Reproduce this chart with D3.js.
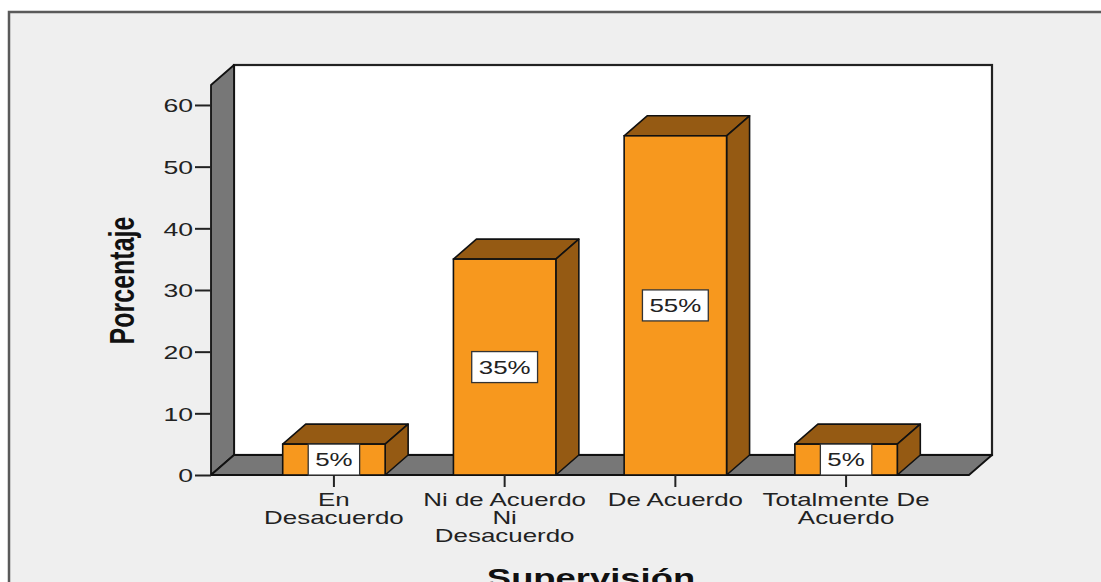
<!DOCTYPE html>
<html>
<head>
<meta charset="utf-8">
<script src="https://cdn.jsdelivr.net/npm/d3@7"></script>
<style>
  html, body { margin: 0; padding: 0; background: #ffffff; }
  svg { display: block; }
  text { font-family: "Liberation Sans", Arial, sans-serif; }
</style>
</head>
<body>
<svg id="chart" width="1101" height="582"></svg>
<script>
// ---- data ----
const categories = ["En Desacuerdo", "Ni de Acuerdo Ni Desacuerdo", "De Acuerdo", "Totalmente De Acuerdo"];
const categoryLines = [["En", "Desacuerdo"], ["Ni de Acuerdo", "Ni", "Desacuerdo"], ["De Acuerdo"], ["Totalmente De", "Acuerdo"]];
const percentages = [5, 35, 55, 5];
const valueLabels = ["5%", "35%", "55%", "5%"];
const yTicks = [0, 10, 20, 30, 40, 50, 60];
const yTitle = "Porcentaje";
const xTitle = "Supervisión";

// ---- layout ----
const W = 1101, H = 582;
const plot = { left: 211, right: 969, bottom: 475, top: 85 };
const depth = { dx: 23, dy: -20 };
const SX = 1.4; // horizontal stretch of the text
const colors = {
  page: "#ffffff", panel: "#efefef", frame: "#5a5a5a",
  wall: "#777777", back: "#ffffff", front: "#f7981e", dark: "#955a13", edge: "#111111"
};

const svg = d3.select("#chart");

const x = d3.scaleBand().domain(categories)
  .range([plot.left, plot.right]).paddingInner(0.4).paddingOuter(0.42);
const y = d3.scaleLinear().domain([0, 63.24]).range([plot.bottom, plot.top]);

// panel background + frame
svg.append("rect").attr("x", 0).attr("y", 0).attr("width", W).attr("height", H).attr("fill", colors.page);
svg.append("rect").attr("x", 9).attr("y", 12).attr("width", 1200).attr("height", 700)
  .attr("fill", colors.panel).attr("stroke", colors.frame).attr("stroke-width", 2.5);

const x0 = plot.left, x1 = plot.right, yb = y(0), yt = y.range()[1];
const dx = depth.dx, dy = depth.dy;

// back wall
svg.append("rect").attr("x", x0 + dx).attr("y", yt + dy)
  .attr("width", x1 - x0).attr("height", yb - yt)
  .attr("fill", colors.back).attr("stroke", "#222").attr("stroke-width", 2.2);
// left wall
svg.append("polygon")
  .attr("points", [[x0, yt], [x0 + dx, yt + dy], [x0 + dx, yb + dy], [x0, yb]].map(p => p.join(",")).join(" "))
  .attr("fill", colors.wall).attr("stroke", colors.edge).attr("stroke-width", 1.8).attr("stroke-linejoin", "round");
// floor
svg.append("polygon")
  .attr("points", [[x0, yb], [x0 + dx, yb + dy], [x1 + dx, yb + dy], [x1, yb]].map(p => p.join(",")).join(" "))
  .attr("fill", colors.wall).attr("stroke", colors.edge).attr("stroke-width", 1.8).attr("stroke-linejoin", "round");

// bars
const data = categories.map((c, i) => ({ c, v: percentages[i], label: valueLabels[i] }));
const bars = svg.append("g").selectAll("g").data(data).join("g");
bars.each(function (d) {
  const g = d3.select(this);
  const bx = x(d.c), bw = x.bandwidth(), top = y(d.v);
  g.append("polygon")
    .attr("points", [[bx, top], [bx + dx, top + dy], [bx + bw + dx, top + dy], [bx + bw, top]].map(p => p.join(",")).join(" "))
    .attr("fill", colors.dark).attr("stroke", colors.edge).attr("stroke-width", 1.6).attr("stroke-linejoin", "round");
  g.append("polygon")
    .attr("points", [[bx + bw, top], [bx + bw + dx, top + dy], [bx + bw + dx, yb + dy], [bx + bw, yb]].map(p => p.join(",")).join(" "))
    .attr("fill", colors.dark).attr("stroke", colors.edge).attr("stroke-width", 1.6).attr("stroke-linejoin", "round");
  g.append("rect").attr("x", bx).attr("y", top).attr("width", bw).attr("height", yb - top)
    .attr("fill", colors.front).attr("stroke", colors.edge).attr("stroke-width", 1.6);

  // value label box
  const cx = bx + bw / 2, cy = (top + yb) / 2;
  const lg = g.append("g");
  const box = lg.append("rect");
  const t = lg.append("text")
    .attr("transform", `translate(${cx},${cy + 6.6}) scale(${SX},1)`)
    .attr("text-anchor", "middle").attr("font-size", 18.5).attr("fill", "#222").text(d.label);
  const len = t.node().getComputedTextLength() * SX;
  const bwid = len + 14, bh = 31;
  box.attr("x", cx - bwid / 2).attr("y", cy - bh / 2).attr("width", bwid).attr("height", bh)
    .attr("fill", "#ffffff").attr("stroke", "#333").attr("stroke-width", 1.3);
});

// y axis
const yAxis = svg.append("g").attr("transform", `translate(${x0},0)`)
  .call(d3.axisLeft(y).tickValues(yTicks).tickSize(16).tickFormat(d3.format("d")));
yAxis.select(".domain").remove();
yAxis.selectAll(".tick line").attr("stroke", "#222").attr("stroke-width", 2);
yAxis.selectAll(".tick text")
  .attr("x", -18 / SX).attr("dy", "0.36em").attr("transform", `scale(${SX},1)`)
  .attr("font-size", 19).attr("fill", "#222").attr("font-family", "Liberation Sans, Arial, sans-serif");

// x axis
const xAxis = svg.append("g").attr("transform", `translate(0,${yb})`)
  .call(d3.axisBottom(x).tickSize(12));
xAxis.select(".domain").remove();
xAxis.selectAll(".tick line").attr("stroke", "#222").attr("stroke-width", 2);
xAxis.selectAll(".tick text").each(function (d, i) {
  const t = d3.select(this);
  t.text(null).attr("y", 0).attr("dy", null)
    .attr("transform", `scale(${SX},1)`).attr("text-anchor", "middle")
    .attr("font-size", 18.5).attr("fill", "#222").attr("font-family", "Liberation Sans, Arial, sans-serif");
  categoryLines[i].forEach((line, k) => {
    t.append("tspan").attr("x", 0).attr("y", 31 + k * 18).text(line);
  });
});

// axis titles
svg.append("text")
  .attr("transform", `translate(134,280.5) scale(${SX},1) rotate(-90)`)
  .attr("text-anchor", "middle").attr("font-size", 25).attr("font-weight", "bold").attr("fill", "#111")
  .text(yTitle);
svg.append("text")
  .attr("transform", `translate(591,587) scale(${SX},1)`)
  .attr("text-anchor", "middle").attr("font-size", 26).attr("font-weight", "bold").attr("fill", "#111")
  .text(xTitle);
</script>
</body>
</html>
